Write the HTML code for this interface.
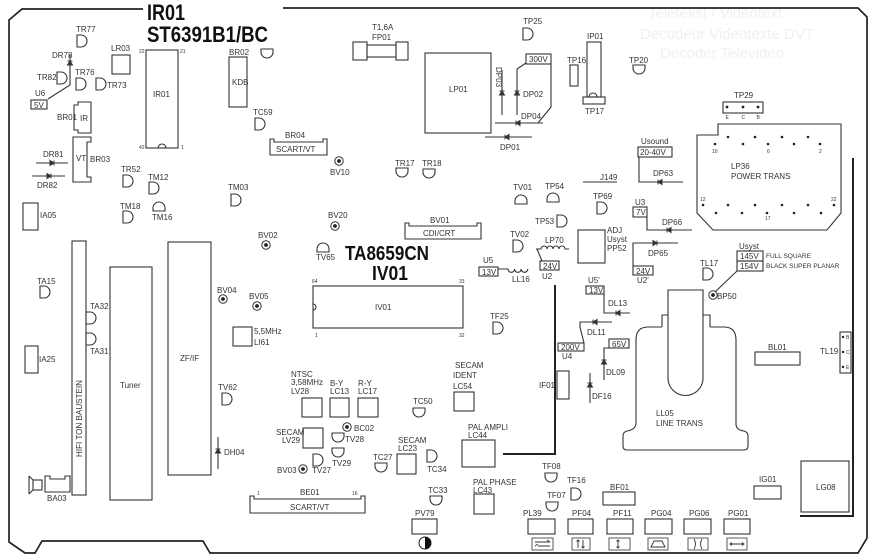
<!DOCTYPE html>
<html><head><meta charset="utf-8"><style>
html,body{margin:0;padding:0;background:#fff;}
svg{display:block;}
text{font-family:"Liberation Sans",sans-serif;font-size:8px;fill:#333;}
.s{font-size:5px;}
.m{font-size:6.5px;}
.big{font-weight:bold;fill:#111;}
.ghost{fill:#f0f0f0;font-size:15px;}
</style></head><body>
<svg width="875" height="559" viewBox="0 0 875 559" xmlns="http://www.w3.org/2000/svg">
<defs>
<path id="dl" d="M0,0H4A6,6 0 0 1 4,12H0Z"/>
<path id="dt" d="M0,0H12V3A6,6 0 0 1 0,3Z"/>
<path id="db" d="M0,9H12V6A6,6 0 0 0 0,6Z"/>
<g id="bv"><circle r="4.2" fill="none" stroke="#333" stroke-width="1"/><circle r="1.9" fill="#222" stroke="none"/></g>
</defs>
<rect width="875" height="559" fill="#fff"/>

<!-- ghost show-through text -->
<text class="ghost" x="648" y="18">Teletekst / Videotext</text>
<text class="ghost" x="640" y="39">Decodeur Videotexte DVT</text>
<text class="ghost" x="660" y="58">Decoder Televideo</text>

<!-- board outline -->
<g fill="none" stroke="#222" stroke-width="1.7">
<path d="M143,9H22L9,20V542L25,553H35L42,541H203L210,553H858L867,538V17L858,8H283"/>
<path d="M853,158V516H800" stroke-width="2"/>
<path d="M555,285V454H503" stroke-width="2"/>
</g>

<!-- titles -->
<text class="big" x="147" y="20" style="font-size:22px" textLength="38" lengthAdjust="spacingAndGlyphs">IR01</text>
<text class="big" x="147" y="42" style="font-size:22px" textLength="121" lengthAdjust="spacingAndGlyphs">ST6391B1/BC</text>
<text class="big" x="345" y="260" style="font-size:20px" textLength="84" lengthAdjust="spacingAndGlyphs">TA8659CN</text>
<text class="big" x="372" y="280" style="font-size:20px" textLength="36" lengthAdjust="spacingAndGlyphs">IV01</text>

<g fill="none" stroke="#333" stroke-width="1.1">
<!-- D-shaped parts -->
<use href="#dl" x="77" y="35"/>
<use href="#dl" x="57" y="72"/>
<use href="#dl" x="76" y="78"/>
<use href="#dl" x="96" y="78"/>
<use href="#dt" x="261" y="49"/>
<use href="#dl" x="255" y="118"/>
<use href="#dl" x="123" y="175"/>
<use href="#dl" x="149" y="182"/>
<use href="#dl" x="231" y="194"/>
<use href="#dl" x="123" y="211"/>
<use href="#db" x="153" y="202"/>
<use href="#dl" x="40" y="286"/>
<use href="#dl" x="86" y="312"/>
<use href="#dl" x="86" y="333"/>
<use href="#dl" x="222" y="393"/>
<use href="#db" x="317" y="243"/>
<use href="#dt" x="396" y="168"/>
<use href="#dt" x="423" y="169"/>
<use href="#dl" x="523" y="28"/>
<use href="#dt" x="633" y="65"/>
<use href="#db" x="515" y="195"/>
<use href="#db" x="547" y="193"/>
<use href="#dl" x="557" y="215"/>
<use href="#dl" x="513" y="240"/>
<use href="#dl" x="597" y="202"/>
<use href="#dl" x="493" y="322"/>
<use href="#dl" x="703" y="268"/>
<use href="#dt" x="413" y="408"/>
<use href="#dt" x="332" y="433"/>
<use href="#dt" x="332" y="448"/>
<use href="#dl" x="313" y="454"/>
<use href="#dt" x="375" y="463"/>
<use href="#dl" x="427" y="450"/>
<use href="#dt" x="430" y="496"/>
<use href="#dt" x="545" y="473"/>
<use href="#dl" x="571" y="488"/>
<use href="#dt" x="546" y="502"/>

<!-- boxes -->
<rect x="112" y="55" width="18" height="19"/>
<rect x="146" y="50" width="32" height="98"/>
<path d="M158,148A4,4 0 0 1 166,148"/>
<rect x="229" y="57" width="18" height="50"/>
<rect x="31" y="100" width="16" height="9"/>
<rect x="425" y="53" width="66" height="80"/>
<rect x="526" y="54" width="25" height="10"/>
<rect x="570" y="65" width="8" height="21"/>
<rect x="587" y="42" width="14" height="55"/>
<path d="M589,97A4,4 0 0 1 597,97"/>
<rect x="583" y="97" width="22" height="7"/>
<rect x="723" y="102" width="40" height="11"/>
<rect x="638" y="147" width="34" height="10"/>
<rect x="23" y="203" width="15" height="27"/>
<rect x="25" y="346" width="13" height="27"/>
<rect x="72" y="241" width="14" height="254"/>
<rect x="110" y="267" width="42" height="233"/>
<rect x="168" y="242" width="43" height="233"/>
<rect x="233" y="327" width="19" height="19"/>
<rect x="313" y="286" width="150" height="42"/>
<path d="M313,304A3,3 0 0 1 313,310"/>
<rect x="479" y="267" width="19" height="9"/>
<rect x="540" y="261" width="19" height="9"/>
<rect x="578" y="230" width="27" height="33"/>
<rect x="633" y="207" width="14" height="10"/>
<rect x="633" y="266" width="20" height="9"/>
<rect x="586" y="286" width="18" height="8"/>
<rect x="558" y="343" width="26" height="8"/>
<rect x="609" y="339" width="20" height="9"/>
<rect x="557" y="371" width="12" height="28"/>
<rect x="737" y="251" width="26" height="10"/>
<rect x="737" y="261" width="26" height="10"/>
<rect x="755" y="352" width="45" height="13"/>
<rect x="840" y="332" width="11" height="41"/>
<rect x="302" y="398" width="20" height="19"/>
<rect x="330" y="398" width="19" height="19"/>
<rect x="358" y="398" width="20" height="19"/>
<rect x="303" y="428" width="20" height="20"/>
<rect x="397" y="454" width="19" height="20"/>
<rect x="454" y="392" width="20" height="19"/>
<rect x="462" y="440" width="33" height="27"/>
<rect x="474" y="494" width="20" height="20"/>
<rect x="412" y="519" width="25" height="15"/>
<rect x="528" y="519" width="27" height="15"/>
<rect x="532" y="538" width="21" height="12" stroke-width="0.8"/>
<rect x="568" y="519" width="25" height="15"/>
<rect x="572" y="538" width="18" height="12" stroke-width="0.8"/>
<rect x="603" y="492" width="32" height="13"/>
<rect x="607" y="519" width="26" height="15"/>
<rect x="609" y="538" width="21" height="12" stroke-width="0.8"/>
<rect x="645" y="519" width="27" height="15"/>
<rect x="648" y="538" width="20" height="12" stroke-width="0.8"/>
<rect x="684" y="519" width="27" height="15"/>
<rect x="688" y="538" width="20" height="12" stroke-width="0.8"/>
<rect x="724" y="519" width="26" height="15"/>
<rect x="727" y="538" width="20" height="12" stroke-width="0.8"/>
<rect x="754" y="486" width="27" height="13"/>
<rect x="801" y="461" width="48" height="51"/>

<!-- fuse -->
<rect x="353" y="42" width="14" height="18"/>
<rect x="396" y="42" width="12" height="18"/>
<rect x="367" y="45" width="29" height="12"/>

<!-- bracket parts -->
<path d="M78,102H91V133H78V130H74V105H78Z"/>
<path d="M73,137H91V142H87V177H91V182H73Z"/>
<!-- connectors -->
<path d="M270,139V155H327V139H323V142H274V139Z"/>
<path d="M405,223V239H481V223H477V226H409V223Z"/>
<path d="M250,496V513H365V496H361V499H254V496Z"/>
<path d="M45,476H50V479H65V476H70V492H45Z"/>
<!-- speaker -->
<rect x="33" y="480" width="9" height="10"/>
<path d="M29,476V494M29,476L33,480M29,494L33,490"/>

<!-- LP36 power trans -->
<path d="M718,124H841V213L827,230H713L697,213V135H718Z"/>

<!-- LL05 line trans -->
<path d="M662,327H648Q636,327 636,340V424Q635,430 627,431Q623,432 623,436V446Q623,450 627,450H744Q748,450 748,446V436Q748,432 744,431Q736,430 736,424V340Q736,327 724,327H710"/>
<path d="M662,327V315H668M703,315H710V327"/>
<path d="M668,290H703V378A17.5,17.5 0 0 1 668,378Z"/>

<!-- wires -->
<path d="M70,55V85L48,99"/>
<path d="M36,163H68"/>
<path d="M32,176H65"/>
<path d="M502,70V115"/>
<path d="M526,63L517,69V115"/>
<path d="M551,64V107L538,123"/>
<path d="M495,123H543"/>
<path d="M485,137H532"/>
<path d="M639,157V182H683"/>
<path d="M583,182H617"/>
<path d="M647,217V230H692"/>
<path d="M678,243H633V266"/>
<path d="M536,249H541A3,3 0 0 1 547,249A3,3 0 0 1 553,249A3,3 0 0 1 559,249A3,3 0 0 1 565,249H569"/>
<path d="M537,249L542,261"/>
<path d="M498,269H508A3.3,3.3 0 0 0 514.6,269A3.3,3.3 0 0 0 521.2,269A3.3,3.3 0 0 0 527.8,269"/>
<path d="M604,294V313H630"/>
<path d="M612,322H580V327L584,343"/>
<path d="M609,348H604V380"/>
<path d="M590,373V403"/>
<path d="M218,437V469"/>
<path d="M715,292L737,271"/>
</g>

<!-- diodes -->
<g fill="#333" stroke="#333" stroke-width="1">
<path d="M67.5,65H72.5L70,61Z M67.5,61H72.5"/>
<path d="M50,160.5V165.5L54,163Z M54,160.5V165.5"/>
<path d="M47,173.5V178.5L51,176Z M51,173.5V178.5"/>
<path d="M499.5,95H504.5L502,91Z M499.5,91H504.5"/>
<path d="M514.5,95H519.5L517,91Z M514.5,91H519.5"/>
<path d="M520,120.5V125.5L516,123Z M516,120.5V125.5"/>
<path d="M509,134.5V139.5L505,137Z M505,134.5V139.5"/>
<path d="M662,179.5V184.5L658,182Z M658,179.5V184.5"/>
<path d="M671,227.5V232.5L667,230Z M667,227.5V232.5"/>
<path d="M653,240.5V245.5L657,243Z M657,240.5V245.5"/>
<path d="M620,310.5V315.5L616,313Z M616,310.5V315.5"/>
<path d="M597,319.5V324.5L593,322Z M593,319.5V324.5"/>
<path d="M601.5,364H606.5L604,360Z M601.5,360H606.5"/>
<path d="M587.5,387H592.5L590,383Z M587.5,383H592.5"/>
<path d="M215.5,453H220.5L218,449Z M215.5,449H220.5"/>
</g>

<!-- circled test points -->
<use href="#bv" x="339" y="161"/>
<use href="#bv" x="266" y="245"/>
<use href="#bv" x="223" y="299"/>
<use href="#bv" x="257" y="306"/>
<use href="#bv" x="335" y="226"/>
<use href="#bv" x="347" y="427"/>
<use href="#bv" x="303" y="469"/>
<use href="#bv" x="713" y="295"/>

<!-- dots -->
<g fill="#222">
<circle cx="727" cy="107" r="1.4"/><circle cx="743" cy="107" r="1.4"/><circle cx="758" cy="107" r="1.4"/>
<circle cx="728" cy="137" r="1.3"/><circle cx="755" cy="137" r="1.3"/><circle cx="782" cy="137" r="1.3"/><circle cx="808" cy="137" r="1.3"/>
<circle cx="715" cy="144" r="1.3"/><circle cx="743" cy="144" r="1.3"/><circle cx="768" cy="144" r="1.3"/><circle cx="794" cy="144" r="1.3"/><circle cx="820" cy="144" r="1.3"/>
<circle cx="703" cy="205" r="1.3"/><circle cx="728" cy="205" r="1.3"/><circle cx="755" cy="205" r="1.3"/><circle cx="782" cy="205" r="1.3"/><circle cx="808" cy="205" r="1.3"/><circle cx="834" cy="205" r="1.3"/>
<circle cx="716" cy="213" r="1.3"/><circle cx="742" cy="213" r="1.3"/><circle cx="767" cy="213" r="1.3"/><circle cx="794" cy="213" r="1.3"/><circle cx="821" cy="213" r="1.3"/>
<circle cx="843" cy="337" r="1.2"/><circle cx="843" cy="352" r="1.2"/><circle cx="843" cy="367" r="1.2"/>
</g>

<!-- PV79 half circle -->
<circle cx="425" cy="543" r="6" fill="none" stroke="#222" stroke-width="1"/>
<path d="M425,537A6,6 0 0 1 425,549Z" fill="#111"/>

<!-- icons -->
<g fill="none" stroke="#333" stroke-width="0.9">
<path d="M535,542H550M547,540L550,542M538,546H550M535,546L538,544"/>
<path d="M618,540V548M616.5,541.5L618,540L619.5,541.5M616.5,546.5L618,548L619.5,546.5"/>
<path d="M651,547L654,541H662L665,547Z"/>
<path d="M694,539Q697,544 694,549M702,539Q699,544 702,549"/>
<path d="M730,544H744M732,542.5L730,544L732,545.5M742,542.5L744,544L742,545.5"/>
<path d="M578,540V548M576.5,541.5L578,540L579.5,541.5M583,540V548M581.5,546.5L583,548L584.5,546.5"/>
</g>

<!-- labels -->
<text x="76" y="32">TR77</text>
<text x="52" y="58">DR78</text>
<text x="37" y="80">TR82</text>
<text x="75" y="75">TR76</text>
<text x="107" y="88">TR73</text>
<text x="35" y="96">U6</text>
<text x="34" y="108">5V</text>
<text x="111" y="51">LR03</text>
<text class="s" x="139" y="53">22</text>
<text class="s" x="180" y="53">21</text>
<text class="s" x="139" y="149">42</text>
<text class="s" x="181" y="149">1</text>
<text x="153" y="97">IR01</text>
<text x="229" y="55">BR02</text>
<text x="232" y="85">KDB</text>
<text x="253" y="115">TC59</text>
<text x="57" y="120">BR01</text>
<text x="80" y="121">IR</text>
<text x="76" y="161">VT</text>
<text x="90" y="162">BR03</text>
<text x="43" y="157">DR81</text>
<text x="37" y="188">DR82</text>
<text x="121" y="172">TR52</text>
<text x="148" y="180">TM12</text>
<text x="228" y="190">TM03</text>
<text x="285" y="138">BR04</text>
<text x="276" y="152">SCART/VT</text>
<text x="372" y="30">T1,6A</text>
<text x="372" y="40">FP01</text>
<text x="523" y="24">TP25</text>
<text x="449" y="92">LP01</text>
<text x="529" y="62">300V</text>
<text x="496" y="67" transform="rotate(90 496 67)">DP03</text>
<text x="523" y="97">DP02</text>
<text x="521" y="119">DP04</text>
<text x="500" y="150">DP01</text>
<text x="567" y="63">TP16</text>
<text x="587" y="39">IP01</text>
<text x="585" y="114">TP17</text>
<text x="629" y="63">TP20</text>
<text x="734" y="98">TP29</text>
<text class="s" x="725.5" y="119">E</text>
<text class="s" x="741.5" y="119">C</text>
<text class="s" x="756.5" y="119">B</text>
<text x="330" y="175">BV10</text>
<text x="395" y="166">TR17</text>
<text x="422" y="166">TR18</text>
<text x="641" y="144">Usound</text>
<text x="640" y="155">20-40V</text>
<text x="653" y="176">DP63</text>
<text x="600" y="180">J149</text>
<text x="731" y="169">LP36</text>
<text x="731" y="179">POWER TRANS</text>
<text class="s" x="712" y="153">10</text>
<text class="s" x="767" y="153">6</text>
<text class="s" x="819" y="153">2</text>
<text class="s" x="700" y="201">12</text>
<text class="s" x="831" y="201">22</text>
<text class="s" x="765" y="220">17</text>
<text x="40" y="218">IA05</text>
<text x="120" y="209">TM18</text>
<text x="152" y="220">TM16</text>
<text x="258" y="238">BV02</text>
<text x="217" y="293">BV04</text>
<text x="249" y="299">BV05</text>
<text x="254" y="334">5,5MHz</text>
<text x="254" y="345">LI61</text>
<text x="37" y="284">TA15</text>
<text x="90" y="309">TA32</text>
<text x="90" y="354">TA31</text>
<text x="39" y="362">IA25</text>
<text x="180" y="361">ZF/IF</text>
<text x="120" y="388">Tuner</text>
<text x="82" y="457" transform="rotate(-90 82 457)" textLength="77" lengthAdjust="spacingAndGlyphs">HIFI TON BAUSTEIN</text>
<text x="328" y="218">BV20</text>
<text x="316" y="260">TV65</text>
<text x="430" y="223">BV01</text>
<text x="423" y="236">CDI/CRT</text>
<text class="s" x="312" y="283">64</text>
<text class="s" x="459" y="283">33</text>
<text class="s" x="315" y="337">1</text>
<text class="s" x="459" y="337">32</text>
<text x="375" y="310">IV01</text>
<text x="513" y="190">TV01</text>
<text x="545" y="189">TP54</text>
<text x="535" y="224">TP53</text>
<text x="510" y="237">TV02</text>
<text x="545" y="243">LP70</text>
<text x="483" y="263">U5</text>
<text x="482" y="275">13V</text>
<text x="512" y="282">LL16</text>
<text x="543" y="269">24V</text>
<text x="542" y="279">U2</text>
<text x="607" y="233">ADJ</text>
<text x="607" y="242">Usyst</text>
<text x="607" y="251">PP52</text>
<text x="593" y="199">TP69</text>
<text x="635" y="205">U3</text>
<text x="636" y="215">7V</text>
<text x="662" y="225">DP66</text>
<text x="648" y="256">DP65</text>
<text x="636" y="274">24V</text>
<text x="637" y="283">U2'</text>
<text x="588" y="283">U5'</text>
<text x="589" y="293">13V</text>
<text x="608" y="306">DL13</text>
<text x="587" y="335">DL11</text>
<text x="561" y="350">200V</text>
<text x="562" y="359">U4</text>
<text x="612" y="347">65V</text>
<text x="606" y="375">DL09</text>
<text x="592" y="399">DF16</text>
<text x="539" y="388">IF01</text>
<text x="490" y="319">TF25</text>
<text x="700" y="266">TL17</text>
<text x="739" y="249">Usyst</text>
<text x="740" y="259">145V</text>
<text x="740" y="269">154V</text>
<text class="m" x="766" y="258">FULL SQUARE</text>
<text class="m" x="766" y="268">BLACK SUPER PLANAR</text>
<text x="717" y="299">BP50</text>
<text x="768" y="350">BL01</text>
<text x="820" y="354">TL19</text>
<text class="s" x="846" y="339">B</text>
<text class="s" x="846" y="354">C</text>
<text class="s" x="846" y="369">E</text>
<text x="656" y="416">LL05</text>
<text x="656" y="426">LINE TRANS</text>
<text x="218" y="390">TV62</text>
<text x="224" y="455">DH04</text>
<text x="47" y="501">BA03</text>
<text x="291" y="377">NTSC</text>
<text x="291" y="385">3,58MHz</text>
<text x="291" y="394">LV28</text>
<text x="330" y="386">B-Y</text>
<text x="330" y="394">LC13</text>
<text x="358" y="386">R-Y</text>
<text x="358" y="394">LC17</text>
<text x="276" y="435">SECAM</text>
<text x="282" y="443">LV29</text>
<text x="354" y="431">BC02</text>
<text x="345" y="442">TV28</text>
<text x="332" y="466">TV29</text>
<text x="277" y="473">BV03</text>
<text x="312" y="473">TV27</text>
<text x="373" y="460">TC27</text>
<text x="398" y="443">SECAM</text>
<text x="398" y="451">LC23</text>
<text x="427" y="472">TC34</text>
<text x="413" y="404">TC50</text>
<text x="455" y="368">SECAM</text>
<text x="453" y="378">IDENT</text>
<text x="453" y="389">LC54</text>
<text x="468" y="430">PAL AMPLI</text>
<text x="468" y="438">LC44</text>
<text x="473" y="485">PAL PHASE</text>
<text x="473" y="493">LC43</text>
<text x="428" y="493">TC33</text>
<text x="415" y="516">PV79</text>
<text x="542" y="469">TF08</text>
<text x="567" y="483">TF16</text>
<text x="547" y="498">TF07</text>
<text x="523" y="516">PL39</text>
<text x="572" y="516">PF04</text>
<text x="610" y="490">BF01</text>
<text x="613" y="516">PF11</text>
<text x="651" y="516">PG04</text>
<text x="689" y="516">PG06</text>
<text x="728" y="516">PG01</text>
<text x="759" y="482">IG01</text>
<text x="816" y="490">LG08</text>
<text x="300" y="495">BE01</text>
<text class="s" x="257" y="495">1</text>
<text class="s" x="352" y="495">16</text>
<text x="290" y="510">SCART/VT</text>
</svg>
</body></html>
